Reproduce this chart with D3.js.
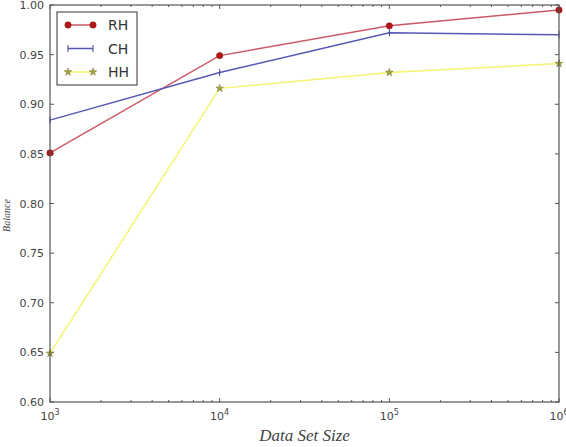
<!DOCTYPE html>
<html>
<head>
<meta charset="utf-8">
<script src="https://cdn.jsdelivr.net/npm/d3@7"></script>
<style>
  body { margin: 0; background: #fff; }
  svg { display: block; }
  .tick text { font-family: "DejaVu Sans", sans-serif; font-size: 11px; fill: #444; }
</style>
</head>
<body>
<div id="chart"></div>
<script>
// data
var sizes = [1e3, 1e4, 1e5, 1e6];
var rhValues = [0.851, 0.949, 0.979, 0.995];
var chValues = [0.884, 0.932, 0.972, 0.970];
var hhValues = [0.649, 0.916, 0.932, 0.941];
var yTicks = [0.60, 0.65, 0.70, 0.75, 0.80, 0.85, 0.90, 0.95, 1.00];
var xTickLabels = ["3", "4", "5", "6"];

var series = [
  { name: "RH", values: rhValues, line: "#cc5a66", marker: "circle", mfill: "#b01818" },
  { name: "CH", values: chValues, line: "#5656b8", marker: "vline", mfill: "#3a3aa0" },
  { name: "HH", values: hhValues, line: "#f4f470", marker: "star", mfill: "#a8a840" }
];

var W = 566, H = 447;
var margin = { left: 50, right: 7, top: 5, bottom: 45 };
var pw = W - margin.left - margin.right, ph = H - margin.top - margin.bottom;

var svg = d3.select("#chart").append("svg").attr("width", W).attr("height", H);
var g = svg.append("g").attr("transform", "translate(" + margin.left + "," + margin.top + ")");

var x = d3.scaleLog().domain([1e3, 1e6]).range([0, pw]);
var y = d3.scaleLinear().domain([0.6, 1.0]).range([ph, 0]);

// minor log ticks
var minor = [];
[1e3, 1e4, 1e5].forEach(function(d) { for (var k = 2; k <= 9; k++) minor.push(d * k); });

function tickLines(axisG, vals, len, dir, horiz) {
  axisG.selectAll("line.t" + len + dir).data(vals).enter().append("line")
    .attr("stroke", "#555").attr("stroke-width", 1)
    .attr("x1", function(d) { return horiz ? x(d) : (dir > 0 ? 0 : pw); })
    .attr("x2", function(d) { return horiz ? x(d) : (dir > 0 ? len : pw - len); })
    .attr("y1", function(d) { return horiz ? (dir > 0 ? ph : 0) : y(d); })
    .attr("y2", function(d) { return horiz ? (dir > 0 ? ph - len : len) : y(d); });
}

var ticksG = g.append("g");
tickLines(ticksG, sizes, 4, 1, true);
tickLines(ticksG, sizes, 4, -1, true);
tickLines(ticksG, minor, 2, 1, true);
tickLines(ticksG, minor, 2, -1, true);
tickLines(ticksG, yTicks, 4, 1, false);
tickLines(ticksG, yTicks, 4, -1, false);

// y axis labels
var yAxis = d3.axisLeft(y).tickValues(yTicks).tickFormat(d3.format(".2f")).tickSize(0).tickPadding(6);
g.append("g").call(yAxis).call(function(a) { a.select(".domain").remove(); });

// x axis labels with superscripts
var xl = g.append("g").attr("class", "tick");
sizes.forEach(function(d, i) {
  var t = xl.append("text").attr("x", x(d)).attr("y", ph + 18).attr("text-anchor", "middle");
  t.append("tspan").text("10");
  t.append("tspan").attr("dy", -5).attr("font-size", "8px").text(xTickLabels[i]);
});

// lines
var line = d3.line().x(function(d, i) { return x(sizes[i]); }).y(function(d) { return y(d); });
series.forEach(function(s) {
  g.append("path").datum(s.values).attr("fill", "none").attr("stroke", s.line)
    .attr("stroke-width", 1.5).attr("d", line);
});

var star = d3.symbol().type(d3.symbolStar).size(18);
function drawMarker(sel, s, cx, cy) {
  if (s.marker === "circle") {
    sel.append("circle").attr("cx", cx).attr("cy", cy).attr("r", 3.2)
      .attr("fill", s.mfill).attr("stroke", "#901010").attr("stroke-width", 0.5);
  } else if (s.marker === "vline") {
    sel.append("line").attr("x1", cx).attr("x2", cx).attr("y1", cy - 3.5).attr("y2", cy + 3.5)
      .attr("stroke", s.mfill).attr("stroke-width", 1);
  } else {
    sel.append("path").attr("d", star).attr("transform", "translate(" + cx + "," + cy + ")")
      .attr("fill", s.mfill).attr("stroke", "#6b6b20").attr("stroke-width", 0.5);
  }
}

series.forEach(function(s) {
  var mg = g.append("g");
  s.values.forEach(function(v, i) { drawMarker(mg, s, x(sizes[i]), y(v)); });
});

// frame
g.append("rect").attr("width", pw).attr("height", ph).attr("fill", "none")
  .attr("stroke", "#555").attr("stroke-width", 1.2);

// legend
var lg = g.append("g").attr("transform", "translate(7,7)");
lg.append("rect").attr("width", 80).attr("height", 73).attr("fill", "#fff")
  .attr("stroke", "#333").attr("stroke-width", 1);
series.forEach(function(s, i) {
  var cy = 13 + i * 23.5;
  lg.append("line").attr("x1", 11).attr("x2", 36).attr("y1", cy).attr("y2", cy)
    .attr("stroke", s.line).attr("stroke-width", 1.5);
  drawMarker(lg, s, 11, cy);
  drawMarker(lg, s, 36, cy);
  lg.append("text").attr("x", 51).attr("y", cy + 5).attr("font-family", "DejaVu Sans, sans-serif")
    .attr("font-size", "14px").attr("fill", "#333").text(s.name);
});

// axis titles
svg.append("text").attr("x", margin.left + pw / 2).attr("y", 441).attr("text-anchor", "middle")
  .attr("font-family", "Liberation Serif, serif").attr("font-style", "italic")
  .attr("font-size", "17px").attr("fill", "#444").text("Data Set Size");
svg.append("text").attr("transform", "translate(10," + (margin.top + ph / 2 + 12) + ") rotate(-90)")
  .attr("text-anchor", "middle").attr("font-family", "Liberation Serif, serif")
  .attr("font-style", "italic").attr("font-size", "10px").attr("fill", "#444").text("Balance");
</script>
</body>
</html>
